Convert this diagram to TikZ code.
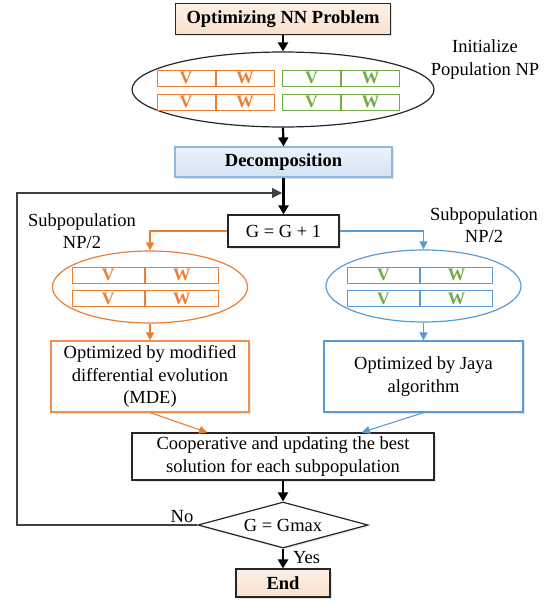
\documentclass[tikz,border=0pt]{standalone}
\usepackage{fontspec}
\setmainfont{Liberation Serif}
\usetikzlibrary{arrows.meta,shapes.geometric,shadows,calc}
\definecolor{orng}{RGB}{237,125,49}
\definecolor{blu}{RGB}{91,155,213}
\definecolor{grn}{RGB}{112,173,71}
\definecolor{peachT}{RGB}{253,241,232}
\definecolor{peachB}{RGB}{250,224,204}
\definecolor{bluT}{RGB}{236,243,251}
\definecolor{bluB}{RGB}{212,226,243}
\tikzset{
  txt/.style={font=\fontsize{18.5}{22.5}\selectfont},
  shd/.style={drop shadow={shadow xshift=1.5pt,shadow yshift=-1.5pt,opacity=0.22}},
  boxb/.style={rectangle, draw=black!85, line width=1.2pt, inner sep=0pt, align=center, txt, fill=white, shd},
  boxo/.style={boxb, draw=orng!85},
  boxbl/.style={boxb, draw=blu},
  ell/.style={ellipse, line width=1.2pt, inner sep=0pt},
  cell/.style={rectangle, line width=1pt, minimum height=16pt, inner sep=0pt, fill=white,
               font=\bfseries\fontsize{17.5}{17.5}\selectfont},
  thk/.style={line width=2.2pt, -{Triangle[length=9pt,width=10pt]}},
  thn/.style={line width=1.1pt, -{Triangle[length=8pt,width=8pt]}},
  lbl/.style={txt, align=center, inner sep=0pt},
}
\newcommand\vwrow[6]{%
  \node[cell, draw=#2, text=#3, minimum width=#6, anchor=east] (#1v) at (#4,#5) {V};
  \node[cell, draw=#2, text=#3, minimum width=#6, anchor=west] (#1w) at (#4,#5) {W};}
\begin{document}
\begin{tikzpicture}[x=1pt,y=-1pt]
\useasboundingbox (0,0) rectangle (552,603);
% top
\node[boxb, minimum width=215, minimum height=31, top color=peachT, bottom color=peachB, font=\bfseries\fontsize{18.5}{22.5}\selectfont] (top) at (283,19) {Optimizing NN Problem};
% population ellipse
\node[ell, draw=black!85, minimum width=302, minimum height=75] (pop) at (283,89.5) {};
\vwrow{oa}{orng}{orng}{215.5}{78}{58}
\vwrow{ob}{orng}{orng}{215.5}{102}{58}
\vwrow{ga}{grn}{grn}{341}{78}{58}
\vwrow{gb}{grn}{grn}{341}{102}{58}
\node[lbl] (init) at (485,59.5) {Initialize\\Population NP};
% decomposition
\node[boxb, draw=blu!70, minimum width=217, minimum height=30, top color=bluT, bottom color=bluB, font=\bfseries\fontsize{18.5}{22.5}\selectfont] (dec) at (283.5,162) {Decomposition};
% G box
\node[boxb, minimum width=111, minimum height=32] (g) at (283.5,231) {G = G + 1};
\node[lbl] (subl) at (82,231) {Subpopulation\\NP/2};
\node[lbl] (subr) at (484,225) {Subpopulation\\NP/2};
% sub ellipses
\node[ell, draw=orng, minimum width=195, minimum height=72] (so) at (150,287) {};
\node[ell, draw=blu, minimum width=195, minimum height=72] (sb) at (423.5,286) {};
\vwrow{sa}{orng}{orng}{145}{275}{72.5}
\vwrow{sbb}{orng}{orng}{145}{298.5}{72.5}
\vwrow{ba}{blu}{grn}{420}{275}{72}
\vwrow{bb}{blu}{grn}{420}{298.5}{72}
% optimizer boxes
\node[boxo, minimum width=198, minimum height=71] (mde) at (150,376.5) {Optimized by modified\\differential evolution\\(MDE)};
\node[boxbl, minimum width=199, minimum height=71] (jaya) at (423.5,376.5) {Optimized by Jaya\\algorithm};
% cooperative
\node[boxb, minimum width=302, minimum height=47] (coop) at (283,456.5) {Cooperative and updating the best\\solution for each subpopulation};
% decision
\node[diamond, draw=black!85, line width=1.2pt, fill=white, shd, minimum width=170, minimum height=46, aspect=3.7, inner sep=0pt, txt] (dec2) at (283,525) {G = Gmax};
% end
\node[boxb, minimum width=94, minimum height=28, top color=peachT, bottom color=peachB, font=\bfseries\fontsize{18.5}{22.5}\selectfont] (end) at (283,583) {End};
% connectors
\draw[thk] (top.south) -- (pop.north);
\draw[thk] (pop.south) -- (dec.north);
\draw[thk] (dec.south) -- (g.north);
\coordinate (fbl) at (17,525);
\coordinate (fbt) at (17,193);
\coordinate (fbe) at (282,193);
\draw[line width=1.2pt, black!75, -{Triangle[length=10pt,width=10pt]}] (dec2.west) -- (fbl) -- (fbt) -- (fbe);
\draw[thn, orng] (g.west) -| (so.north);
\draw[thn, blu] (g.east) -| (sb.north);
\draw[thn, orng] (so.south) -- (mde.north);
\draw[thn, blu] (sb.south) -- (jaya.north);
\draw[thn, orng] (mde.south) -- ($(coop.north west)!0.25!(coop.north east)$);
\draw[thn, blu] (jaya.south) -- ($(coop.north west)!0.76!(coop.north east)$);
\draw[thk] (coop.south) -- (dec2.north);
\draw[thk] (dec2.south) -- (end.north);
\node[lbl, anchor=south] (no) at (182,523) {No};
\node[lbl, anchor=west] (yes) at (293,558) {Yes};
\end{tikzpicture}
\end{document}
